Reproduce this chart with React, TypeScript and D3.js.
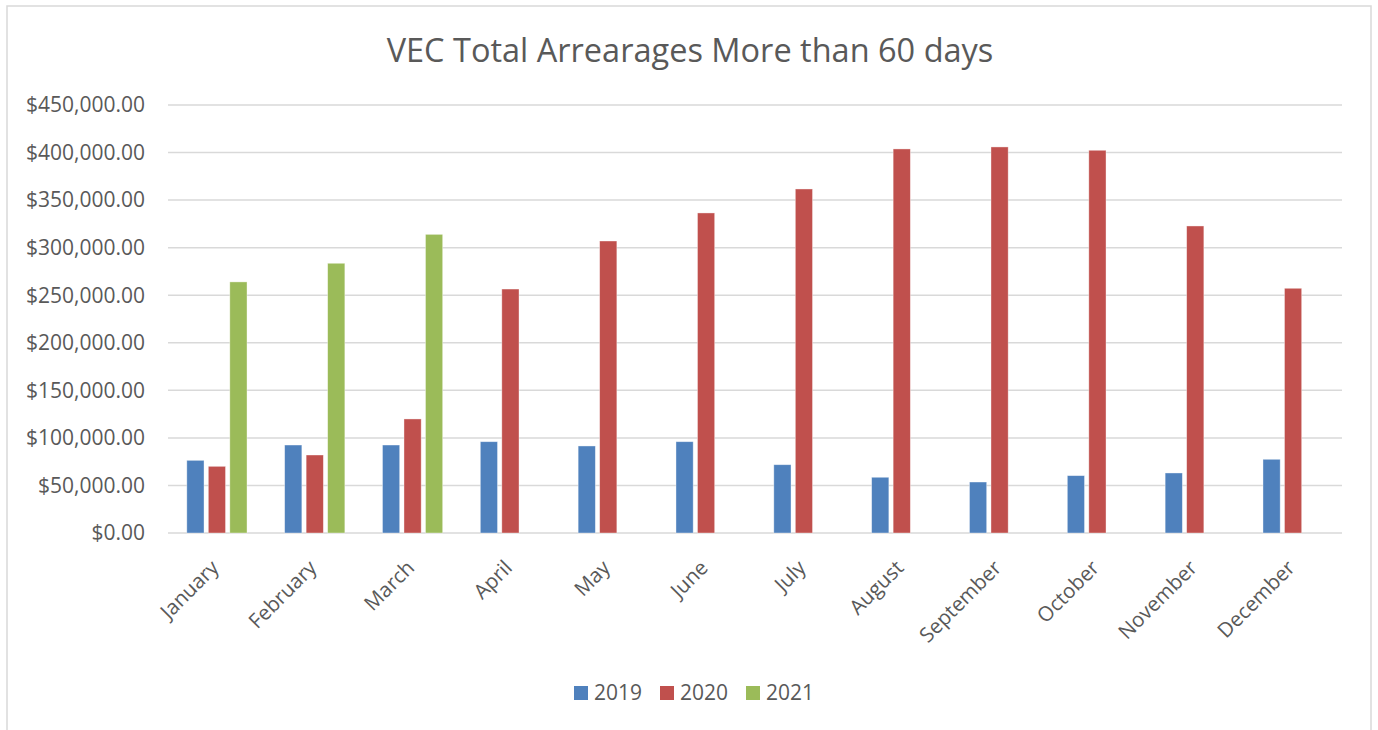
import React from "react";
import * as d3 from "d3";

const months = [
  "January", "February", "March", "April", "May", "June",
  "July", "August", "September", "October", "November", "December",
];
const years = ["2019", "2020", "2021"];

// values (dollars)
const values2019 = [76400, 92500, 92500, 96000, 91500, 96000, 71800, 58600, 53600, 60300, 63100, 77500];
const values2020 = [70100, 82000, 119900, 256500, 307000, 336500, 361700, 403800, 405900, 402400, 322800, 257300];
const values2021 = [264000, 283600, 314000];

const yTicks = [0, 50000, 100000, 150000, 200000, 250000, 300000, 350000, 400000, 450000];
const colors = ["#4f81bd", "#c0504d", "#9bbb59"];

const W = 1378;
const H = 730;
const margin = { top: 105, right: 36, bottom: 197, left: 168 };
const textColor = "#595959";
const font = "'Open Sans', 'Noto Sans', sans-serif";

const App = () => {
  const x = d3
    .scaleBand()
    .domain(months)
    .range([margin.left, W - margin.right])
    .padding(0);

  const series = d3
    .scaleBand()
    .domain(years)
    .range([-30.1, 30.1])
    .paddingInner(0.2);

  const y = d3
    .scaleLinear()
    .domain([0, 450000])
    .range([H - margin.bottom, margin.top]);

  const fmt = d3.format("$,.2f");
  const allSeries = [values2019, values2020, values2021];

  // legend layout
  const legendItems = [
    { label: "2019", x: 574 },
    { label: "2020", x: 660 },
    { label: "2021", x: 746 },
  ];

  return (
    <svg
      width={W}
      height={H}
      style={{ position: "absolute", left: 0, top: 0, background: "#fff" }}
    >
      <rect x={7} y={6} width={1364} height={740} fill="#fff" stroke="#d9d9d9" strokeWidth={1.5} />

      <text
        x={690}
        y={62}
        textAnchor="middle"
        fontFamily={font}
        fontSize={32.5}
        fill={textColor}
      >
        VEC Total Arrearages More than 60 days
      </text>

      {/* gridlines + y labels */}
      {yTicks.map((t) => (
        <g key={t}>
          <line
            x1={margin.left}
            x2={W - margin.right}
            y1={y(t)}
            y2={y(t)}
            stroke="#d9d9d9"
            strokeWidth={1.5}
          />
          <text
            x={145}
            y={y(t)}
            dy="0.35em"
            textAnchor="end"
            fontFamily={font}
            fontSize={21}
            fill={textColor}
          >
            {fmt(t)}
          </text>
        </g>
      ))}

      {/* bars */}
      {allSeries.map((vals, si) => (
        <g key={years[si]} fill={colors[si]}>
          {vals.map((v, i) => {
            const cx = (x(months[i]) as number) + x.bandwidth() / 2;
            return (
              <rect
                key={months[i]}
                x={cx + (series(years[si]) as number)}
                y={y(v)}
                width={series.bandwidth()}
                height={y(0) - y(v)}
                stroke="#ffffff"
                strokeOpacity={0.5}
                strokeWidth={0.75}
              />
            );
          })}
        </g>
      ))}

      {/* x labels */}
      {months.map((m) => {
        const cx = (x(m) as number) + x.bandwidth() / 2;
        return (
          <text
            key={m}
            transform={`translate(${cx - 2},${y(0) + 31}) rotate(-45)`}
            textAnchor="end"
            dy="0.35em"
            fontFamily={font}
            fontSize={20.5}
            fill={textColor}
          >
            {m}
          </text>
        );
      })}

      {/* legend */}
      {legendItems.map((d, i) => (
        <g key={d.label}>
          <rect x={d.x} y={686} width={14} height={14} fill={colors[i]} />
          <text
            x={d.x + 20}
            y={693}
            dy="0.35em"
            fontFamily={font}
            fontSize={21}
            fill={textColor}
          >
            {d.label}
          </text>
        </g>
      ))}
    </svg>
  );
};

export default App;
